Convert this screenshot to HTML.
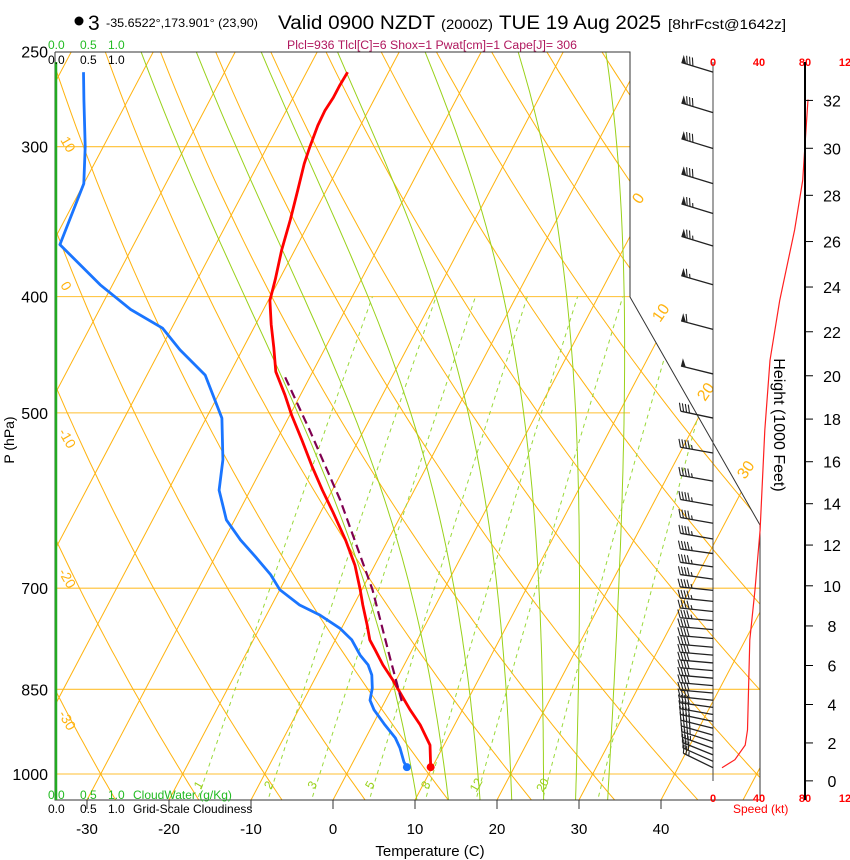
<!DOCTYPE html>
<html><head><meta charset="utf-8"><style>
html,body{margin:0;padding:0;background:#fff;}
svg{display:block;font-family:"Liberation Sans",sans-serif;}
</style></head><body>
<svg id="chart" width="850" height="860" viewBox="0 0 850 860" xmlns="http://www.w3.org/2000/svg">
<defs><clipPath id="plotclip"><polygon points="55,52 630,52 630,297 760,525 760,800 55,800"/></clipPath></defs>
<g>
<circle cx="79" cy="21" r="4.5" fill="#000"/>
<text x="88" y="30" font-size="21">3</text>
<text x="106" y="27" font-size="12" textLength="152" lengthAdjust="spacingAndGlyphs">-35.6522°,173.901° (23,90)</text>
<text x="278" y="29" font-size="19" textLength="157" lengthAdjust="spacingAndGlyphs">Valid 0900 NZDT</text>
<text x="441" y="29" font-size="14" textLength="52" lengthAdjust="spacingAndGlyphs">(2000Z)</text>
<text x="499" y="29" font-size="19" textLength="162" lengthAdjust="spacingAndGlyphs">TUE 19 Aug 2025</text>
<text x="668" y="29" font-size="14" textLength="118" lengthAdjust="spacingAndGlyphs">[8hrFcst@1642z]</text>
<text x="287" y="49" font-size="11.5" fill="#b0185e" textLength="290" lengthAdjust="spacingAndGlyphs">Plcl=936 Tlcl[C]=6 Shox=1 Pwat[cm]=1 Cape[J]= 306</text>
</g>
<g id="bg" clip-path="url(#plotclip)"></g>
<g id="fg"></g>
</svg>
<script>
// ---- data ----
const pressureLevels=[250,300,400,500,700,850,1000];
const tempTicks=[-30,-20,-10,0,10,20,30,40];
const isotherms=[-140,-130,-120,-110,-100,-90,-80,-70,-60,-50,-40,-30,-20,-10,0,10,20,30,40,50];
const dryThetas=[-30,-20,-10,0,10,20,30,40,50,60,70,80,90,100,110,120,130,140,150];
const moistThetaW=[8,12,16,20,24,28,32];
const mixRatios=[1,2,3,5,8,12,20,30];
const mixLabels=["1","2","3","5","8","12","20"];
const tempP=[260,267,273,280,288,300,310,326,345,366,387,403,422,441,462,483,502,527,555,580,605,638,670,702,723,751,773,788,811,835,863,884,910,946,987];
const tempT=[-45.0,-45.1,-45.1,-45.3,-45.2,-44.8,-44.4,-43.5,-42.5,-41.6,-40.5,-39.8,-38.1,-36.3,-34.5,-31.9,-29.8,-26.9,-23.9,-21.2,-18.5,-15.2,-12.4,-10.2,-8.9,-7.1,-5.8,-4.5,-2.6,-0.4,1.9,3.6,5.8,8.3,9.8];
const dewP=[260,274,300,322,362,391,410,425,443,465,505,547,580,614,638,659,682,702,723,737,756,773,796,811,827,848,868,884,910,933,951,977,987];
const dewT=[-77.2,-75.4,-72.2,-70.0,-69.0,-61.5,-56.2,-51.1,-47.6,-42.9,-38.1,-35.3,-33.8,-31.0,-28.0,-25.1,-22.1,-20.0,-16.6,-13.5,-10.2,-8.0,-6.0,-4.4,-3.3,-2.4,-1.9,-0.8,1.5,3.6,4.8,6.2,6.9];
const parcelP=[467,517,591,702,803,876];
const parcelT=[-33.0,-26.6,-18.4,-8.7,-2.0,2.4];
const speedP=[988,973,946,919,773,702,626,517,452,403,352,320,299,274];
const speedKt=[7.8,19,28,30,32,36.5,41,45,49.6,58,71,78,80,82.6];
const barbP=[260,281,301,322,341,363,391,426,464,505,540,570,597,618,637,655,672,688,703,718,732,745,758,771,784,796,808,820,832,844,856,868,880,892,904,916,928,940,952,964,976,988];
const barbKt=[80,80,80,80,75,75,65,60,50,40,45,45,45,45,45,45,45,45,45,45,45,45,40,40,40,40,40,40,40,40,40,40,40,40,40,40,40,40,35,30,30,25];
const barbDir=[287,287,287,287,287,287,286,285,284,282,280,280,280,280,280,278,278,278,276,276,276,275,275,275,275,275,275,275,275,275,275,276,278,280,282,284,286,288,290,292,294,296];
const heightTicks=[0,2,4,6,8,10,12,14,16,18,20,22,24,26,28,30,32];
const speedTicks=["0","40","80","12"];
// ---- axes ----
const yP=p=>774+521*Math.log(p/1000);
const xT=(T,y)=>333+8.2*T+0.527*(800-y);
const xS=s=>713+1.15*s;
const pH=h=>1013.25*Math.pow(1-6.8756e-6*h*1000,5.2559);
const NS="http://www.w3.org/2000/svg";
const bg=document.getElementById('bg'),fg=document.getElementById('fg');
function el(tag,attrs,parent){const e=document.createElementNS(NS,tag);for(const k in attrs)e.setAttribute(k,attrs[k]);parent.appendChild(e);return e;}
function ptsFromPT(ps,ts){return ps.map((p,i)=>{const y=yP(p);return xT(ts[i],y).toFixed(1)+','+y.toFixed(1);}).join(' ');}
// isobars
pressureLevels.forEach(p=>{const y=yP(p);
 const l=el('line',{x1:55,x2:(p>=700?760:630),y1:y,y2:y,stroke:'#ffbf30','stroke-width':1.1},bg);
 
 });
// isotherms
isotherms.forEach(T=>{const l=el('line',{x1:xT(T,800),y1:800,x2:xT(T,52),y2:52,stroke:'#ffb30f','stroke-width':1},bg);
 
 });
// dry adiabats
dryThetas.forEach(th=>{const a=[];for(let p=1070;p>=240;p-=10){const T=(th+273.15)*Math.pow(p/1000,0.2857)-273.15;const y=yP(p);a.push(xT(T,y).toFixed(1)+','+y.toFixed(1));}
 const l=el('polyline',{points:a.join(' '),fill:'none',stroke:'#ffb30f','stroke-width':1},bg);
 
 });
// moist adiabats
function es(T){return 6.112*Math.exp(17.67*T/(T+243.5));}
function rs(T,p){const e=es(T);return 0.622*e/(p-e);}
function dTdp(T,p){const Tk=T+273.15,r=rs(T,p),Lv=2.5e6,Rd=287,cp=1005;return (Rd*Tk+Lv*r)/(p*(cp+Lv*Lv*r*0.622/(Rd*Tk*Tk)));}
moistThetaW.forEach(tw=>{const up=[],dn=[];let T=tw;for(let p=1000;p>=240;p-=2){const y=yP(p);if(p%10===0)up.push(xT(T,y).toFixed(1)+','+y.toFixed(1));T-=2*dTdp(T,p);}
 T=tw;for(let p=1000;p<=1070;p+=2){T+=2*dTdp(T,p);const y=yP(p+2);if(p%10===8)dn.push(xT(T,y).toFixed(1)+','+y.toFixed(1));}
 const l=el('polyline',{points:dn.reverse().concat(up).join(' '),fill:'none',stroke:'#99d11a','stroke-width':1},bg);
 
 });
// mixing ratio lines
mixRatios.forEach(w=>{const a=[];for(let p=1060;p>=400;p-=10){const e=w*p/(622+w);const L=Math.log(e/6.112);const Td=243.5*L/(17.67-L);const y=yP(p);a.push(xT(Td,y).toFixed(1)+','+y.toFixed(1));}
 const l=el('polyline',{points:a.join(' '),fill:'none',stroke:'#9ad93a','stroke-width':1,'stroke-dasharray':'4,4'},bg);
 
 });
// mixing ratio labels
mixLabels.forEach(s=>{const w=parseFloat(s);const p=1025;const e=w*p/(622+w);const L=Math.log(e/6.112);const Td=243.5*L/(17.67-L);const y=787;const x=xT(Td,yP(p));
 const t=el('text',{x:x,y:y,'font-size':12,fill:'#99d11a','text-anchor':'middle',transform:'rotate(-60 '+x+' '+y+')'},fg);t.textContent=s;
 
 });
// frame
const fr=el('polyline',{points:'55,52 630,52 630,297 760,525 760,800 55,800 55,52',fill:'none',stroke:'#333','stroke-width':1},fg);


const gl=el('line',{x1:56,y1:62,x2:56,y2:800,stroke:'#22aa22','stroke-width':2.5},fg);


// isotherm labels right
[[0,640,205],[10,660,323],[20,705,402],[30,745,480]].forEach(d=>{const t=el('text',{x:d[1],y:d[2],'font-size':16,fill:'#ffb30f',transform:'rotate(-55 '+d[1]+' '+d[2]+')'},fg);t.textContent=d[0];
 
 });
[[10,60,140],[0,60,285],[-10,58,432],[-20,58,572],[-30,58,714]].forEach(d=>{const t=el('text',{x:d[1],y:d[2],'font-size':14,fill:'#ffb30f',transform:'rotate(60 '+d[1]+' '+d[2]+')'},fg);t.textContent=d[0];
 
 });
// soundings
function line(ps,ts,color,w,dash,name){const l=el('polyline',{points:ptsFromPT(ps,ts),fill:'none',stroke:color,'stroke-width':w,'stroke-linejoin':'round'},fg);if(dash)l.setAttribute('stroke-dasharray',dash);
 
 }
line(dewP,dewT,'#1a75ff',2.8,null,'dewpoint-line');
line(tempP,tempT,'#ff0000',2.8,null,'temperature-line');
line(parcelP,parcelT,'#800050',2.2,'9,5','parcel-path');
(function(){let y=yP(dewP[dewP.length-1]);const c=el('circle',{cx:xT(dewT[dewT.length-1],y),cy:y,r:4,fill:'#1a75ff'},fg);
 
 
 y=yP(tempP[tempP.length-1]);const c2=el('circle',{cx:xT(tempT[tempT.length-1],y),cy:y,r:4,fill:'#ff0000'},fg);
 
 })();
// pressure labels
pressureLevels.forEach(p=>{const t=el('text',{x:48,y:yP(p)+6,'font-size':16,'text-anchor':'end'},fg);t.textContent=p;
 
 });
const pt=el('text',{x:14,y:440,'font-size':14,'text-anchor':'middle',transform:'rotate(-90 14 440)'},fg);pt.textContent='P (hPa)';


// temperature ticks
tempTicks.forEach(T=>{const x=xT(T,800);const tk=el('line',{x1:x,x2:x,y1:800,y2:809,stroke:'#333'},fg);
 
 
 const t=el('text',{x:x,y:834,'font-size':15,'text-anchor':'middle'},fg);t.textContent=T;
 
 });
const xtt=el('text',{x:430,y:856,'font-size':15,'text-anchor':'middle'},fg);xtt.textContent='Temperature (C)';


// cloud labels
[['0.0',48],['0.5',80],['1.0',108]].forEach(d=>{const a=el('text',{x:d[1],y:49,'font-size':12,fill:'#22bb22'},fg);a.textContent=d[0];
 
 
 const b=el('text',{x:d[1],y:64,'font-size':12},fg);b.textContent=d[0];
 
 
 const c=el('text',{x:d[1],y:799,'font-size':12,fill:'#22bb22'},fg);c.textContent=d[0];
 
 
 const e=el('text',{x:d[1],y:813,'font-size':12},fg);e.textContent=d[0];
 
 });
const cw=el('text',{x:133,y:799,'font-size':12,fill:'#22bb22'},fg);cw.textContent='CloudWater (g/Kg)';


const gc=el('text',{x:133,y:813,'font-size':12},fg);gc.textContent='Grid-Scale Cloudiness';


// speed axis
const sa=el('line',{x1:713,x2:713,y1:62,y2:781,stroke:'#444'},fg);


speedTicks.forEach((s,i)=>{const x=Math.min(xS(i*40),845);[62,798].forEach(y=>{const t=el('text',{x:x,y:y+4,'font-size':11,'font-weight':'bold',fill:'#ff0000','text-anchor':'middle'},fg);t.textContent=s;
 
 });});
const st=el('text',{x:733,y:813,'font-size':12,fill:'#ff0000'},fg);st.textContent='Speed (kt)';


const sp=el('polyline',{points:speedP.map((p,i)=>xS(speedKt[i]).toFixed(1)+','+yP(p).toFixed(1)).join(' '),fill:'none',stroke:'#ff2020','stroke-width':1.2},fg);


// height axis
const ha=el('line',{x1:805,x2:805,y1:62,y2:800,stroke:'#000','stroke-width':2},fg);


heightTicks.forEach(h=>{const y=yP(pH(h));const tk=el('line',{x1:805,x2:813,y1:y,y2:y,stroke:'#000'},fg);
 
 
 const t=el('text',{x:832,y:y+6,'font-size':16,'text-anchor':'middle'},fg);t.textContent=h;
 
 });
const ht=el('text',{x:774,y:425,'font-size':16,'text-anchor':'middle',transform:'rotate(90 774 425)'},fg);ht.textContent='Height (1000 Feet)';


// wind barbs
barbP.forEach((p,i)=>{const y=yP(p),x=713,d=barbDir[i]*Math.PI/180;const dx=Math.sin(d),dy=-Math.cos(d);const L=33;
 const g=el('g',{},fg);
 
 
 const ex=x+dx*L,ey=y+dy*L;el('line',{x1:x,y1:y,x2:ex,y2:ey,stroke:'#222','stroke-width':1.3},g);
 let s=Math.round(barbKt[i]/5)*5;let pos=0;const px=-dy,py=dx;
 const fx=px*8+dx*3,fy=py*8+dy*3;
 while(s>=50){const ax=ex-dx*pos,ay=ey-dy*pos;el('polygon',{points:ax+','+ay+' '+(ax-dx*5)+','+(ay-dy*5)+' '+(ax+px*8)+','+(ay+py*8),fill:'#222'},g);pos+=6;s-=50;}
 while(s>=10){const ax=ex-dx*pos,ay=ey-dy*pos;el('line',{x1:ax,y1:ay,x2:ax+fx,y2:ay+fy,stroke:'#222','stroke-width':1.1},g);pos+=3;s-=10;}
 if(s>=5){const ax=ex-dx*pos,ay=ey-dy*pos;el('line',{x1:ax,y1:ay,x2:ax+fx/2,y2:ay+fy/2,stroke:'#222','stroke-width':1.1},g);}
});
</script>
</body></html>
